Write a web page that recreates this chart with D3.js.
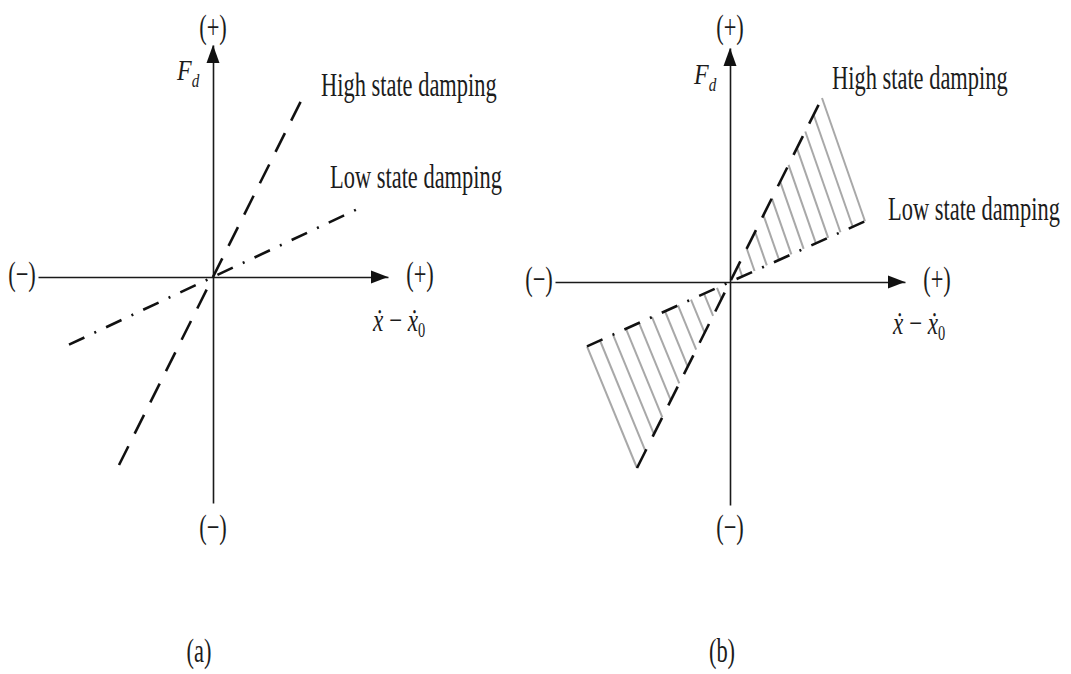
<!DOCTYPE html>
<html>
<head>
<meta charset="utf-8">
<script src="https://cdn.jsdelivr.net/npm/d3@7"></script>
<style>
  html, body { margin: 0; padding: 0; background: #fff; }
  svg { display: block; }
  text { font-family: "Liberation Serif", "Times New Roman", serif; fill: #1c1c1c; }
</style>
</head>
<body>
<svg id="chart" width="1071" height="674"></svg>
<script>
// Damping force versus relative velocity for two damper states.
const panelLabels = ["(a)", "(b)"];
const seriesNames = ["High state damping", "Low state damping"];
// damping coefficient (force per unit relative velocity) for [high, low]
const slopeA = [2.0, 0.47];
const slopeB = [2.0, 0.45];
// relative-velocity extent of each damping line [high, low]
const vMinA = [-1.88, -2.88];
const vMaxA = [1.84, 2.88];
const vMinB = [-1.86, -2.86];
const vMaxB = [1.84, 2.70];
// axis extents
const velocityDomain = [-3.5, 3.5];
const forceDomainA = [-4.52, 4.64];
const forceDomainB = [-4.46, 4.68];
const posLabel = "(+)";
const negLabel = "(\u2212)";
const hatchCount = [11, 11]; // [upper-right, lower-left]

const svg = d3.select("#chart");
const SX = 0.68;   // condensed serif lettering
const FS = 33;

function setText(g, x, y, str, anchor, size) {
  return g.append("text")
    .attr("transform", `translate(${x},${y}) scale(${SX},1)`)
    .attr("text-anchor", anchor || "start")
    .style("font-size", (size || FS) + "px")
    .text(str);
}

const panels = [
  {
    label: panelLabels[0], xr: [38, 388], yr: [503, 45], fd: forceDomainA,
    slope: slopeA, vMin: vMinA, vMax: vMaxA, hatch: false,
    nameAt: [[321, 96], [330, 188]], captionX: 199,
    fBase: 80, velLab: [373, 331]
  },
  {
    label: panelLabels[1], xr: [555, 905], yr: [505, 48], fd: forceDomainB,
    slope: slopeB, vMin: vMinB, vMax: vMaxB, hatch: true,
    nameAt: [[832, 89], [888, 220]], captionX: 722,
    fBase: 84, velLab: [893, 334]
  }
];

const dashStyles = ["21,14", "17,11,2,11"];

panels.forEach(p => {
  const x = d3.scaleLinear().domain(velocityDomain).range(p.xr);
  const y = d3.scaleLinear().domain(p.fd).range(p.yr);
  const g = svg.append("g");
  const ox = x(0), oy = y(0);

  // hatched band between the two damping characteristics
  if (p.hatch) {
    const hatchG = g.append("g")
      .attr("stroke", "#a8a8a8").attr("stroke-width", 2).attr("fill", "none");
    const ends = [
      { v: [p.vMax[0], p.vMax[1]], n: hatchCount[0] },
      { v: [p.vMin[0], p.vMin[1]], n: hatchCount[1] }
    ];
    ends.forEach(e => {
      const segs = d3.range(1, e.n + 1).map(k => {
        const t = k / e.n;
        return [
          { v: t * e.v[0], f: t * e.v[0] * p.slope[0] },
          { v: t * e.v[1], f: t * e.v[1] * p.slope[1] }
        ];
      });
      hatchG.selectAll(null).data(segs).join("line")
        .attr("x1", d => x(d[0].v)).attr("y1", d => y(d[0].f))
        .attr("x2", d => x(d[1].v)).attr("y2", d => y(d[1].f));
    });
  }

  // axes (no ticks, just the domain line through the origin)
  const xAxis = d3.axisBottom(x).tickValues([]).tickSizeOuter(0);
  const yAxis = d3.axisLeft(y).tickValues([]).tickSizeOuter(0);
  g.append("g").attr("transform", `translate(0,${oy})`).call(xAxis)
    .select(".domain").attr("stroke", "#1a1a1a").attr("stroke-width", 1.6);
  g.append("g").attr("transform", `translate(${ox},0)`).call(yAxis)
    .select(".domain").attr("stroke", "#1a1a1a").attr("stroke-width", 1.6);

  // arrowheads at the positive ends
  const xTip = x(velocityDomain[1]), yTip = y(p.fd[1]);
  g.append("path")
    .attr("d", `M${xTip},${oy} L${xTip - 17},${oy - 6.5} L${xTip - 17},${oy + 6.5} Z`)
    .attr("fill", "#111");
  g.append("path")
    .attr("d", `M${ox},${yTip} L${ox - 6.5},${yTip + 18} L${ox + 6.5},${yTip + 18} Z`)
    .attr("fill", "#111");

  // damping characteristics
  const line = d3.line().x(d => x(d.v)).y(d => y(d.f));
  [0, 1].forEach(i => {
    const pts = [
      { v: p.vMin[i], f: p.vMin[i] * p.slope[i] },
      { v: p.vMax[i], f: p.vMax[i] * p.slope[i] }
    ];
    g.append("path").datum(pts).attr("d", line)
      .attr("fill", "none").attr("stroke", "#111")
      .attr("stroke-width", 2.6).attr("stroke-dasharray", dashStyles[i]);
    setText(g, p.nameAt[i][0], p.nameAt[i][1], seriesNames[i], "start");
  });

  // sign labels at the axis ends
  setText(g, x(velocityDomain[0]) - 16, oy + 8, negLabel, "middle");
  setText(g, xTip + 32, oy + 8, posLabel, "middle");
  setText(g, ox, 38, posLabel, "middle");
  setText(g, ox, 538, negLabel, "middle");

  // axis names
  const fd = g.append("text")
    .attr("transform", `translate(${ox - 36},${p.fBase}) scale(0.8,1)`)
    .style("font-size", "30px").style("font-style", "italic");
  fd.append("tspan").text("F");
  fd.append("tspan").attr("dy", 7).style("font-size", "19px").text("d");

  const vl = g.append("text")
    .attr("transform", `translate(${p.velLab[0]},${p.velLab[1]}) scale(0.72,1)`)
    .style("font-size", "32px");
  vl.append("tspan").style("font-style", "italic").text("x\u0307");
  vl.append("tspan").text(" \u2212 ");
  vl.append("tspan").style("font-style", "italic").text("x\u0307");
  vl.append("tspan").attr("dy", 6).style("font-size", "20px").text("0");

  // panel caption
  setText(g, p.captionX, 662, p.label, "middle");
});
</script>
</body>
</html>
